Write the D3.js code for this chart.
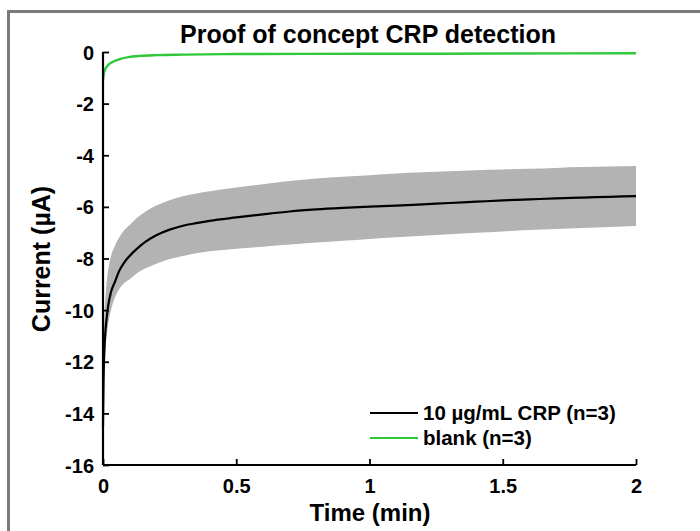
<!DOCTYPE html>
<html>
<head>
<meta charset="utf-8">
<script src="https://cdn.jsdelivr.net/npm/d3@7"></script>
<style>
html,body{margin:0;padding:0;background:#fff;}
svg{display:block;font-family:"Liberation Sans",Arial,Helvetica,sans-serif;font-weight:bold;}
</style>
</head>
<body>
<svg id="chart" width="700" height="531"></svg>
<script>
// ---- data ----
const crpTime  = [0,0.002,0.005,0.01,0.015,0.02,0.03,0.045,0.06,0.08,0.1,0.13,0.16,0.2,0.25,0.3,0.35,0.4,0.5,0.6,0.7,0.8,0.9,1.0,1.1,1.2,1.3,1.4,1.5,1.6,1.7,1.8,1.9,2.0];
const crpMean  = [-14.5,-12.8,-11.6,-10.7,-10.2,-9.8,-9.3,-8.9,-8.5,-8.15,-7.9,-7.6,-7.35,-7.1,-6.88,-6.73,-6.63,-6.54,-6.41,-6.29,-6.18,-6.1,-6.04,-5.99,-5.95,-5.9,-5.85,-5.8,-5.75,-5.71,-5.67,-5.64,-5.61,-5.58];
const crpUpper = [-13.8,-11.8,-10.4,-9.4,-8.8,-8.4,-7.9,-7.5,-7.2,-6.9,-6.7,-6.4,-6.18,-5.95,-5.74,-5.59,-5.48,-5.39,-5.25,-5.12,-5.0,-4.9,-4.83,-4.77,-4.71,-4.66,-4.62,-4.58,-4.55,-4.52,-4.49,-4.46,-4.44,-4.42];
const crpLower = [-14.5,-13.2,-12.3,-11.4,-10.9,-10.5,-10.0,-9.5,-9.2,-8.95,-8.8,-8.55,-8.38,-8.2,-8.02,-7.9,-7.8,-7.72,-7.62,-7.54,-7.46,-7.38,-7.31,-7.24,-7.18,-7.12,-7.06,-7.0,-6.95,-6.90,-6.86,-6.82,-6.78,-6.74];
const blankTime = [0,0.003,0.0075,0.013,0.02,0.03,0.045,0.065,0.095,0.14,0.2,0.3,0.5,1.0,1.5,2.0];
const blankMean = [-1.1,-0.85,-0.7,-0.58,-0.5,-0.42,-0.34,-0.27,-0.2,-0.15,-0.12,-0.1,-0.08,-0.07,-0.06,-0.05];
const xTicks = [0,0.5,1,1.5,2];
const yTicks = [0,-2,-4,-6,-8,-10,-12,-14,-16];
const legendLabels = ["10 \u00b5g/mL CRP (n=3)", "blank (n=3)"];
const titleText = "Proof of concept CRP detection";
const xLabel = "Time (min)";
const yLabel = "Current (\u00b5A)";

// ---- layout ----
const svg = d3.select("#chart");
const x = d3.scaleLinear().domain([0,2]).range([103,636]);
const y = d3.scaleLinear().domain([-16,0]).range([465,52]);

// outer frame
svg.append("rect").attr("x",8.5).attr("y",11.5).attr("width",900).attr("height",700)
  .attr("fill","none").attr("stroke","#7a7a7a").attr("stroke-width",3);

const crp = crpTime.map((t,i)=>({t, m:crpMean[i], u:crpUpper[i], l:crpLower[i]}));
const blank = blankTime.map((t,i)=>({t, m:blankMean[i]}));

// band
svg.append("path").datum(crp)
  .attr("d", d3.area().x(d=>x(d.t)).y0(d=>y(d.l)).y1(d=>y(d.u)).curve(d3.curveMonotoneX))
  .attr("fill","#b3b3b3").attr("stroke","none");

// lines
svg.append("path").datum(crp)
  .attr("d", d3.line().x(d=>x(d.t)).y(d=>y(d.m)).curve(d3.curveMonotoneX))
  .attr("fill","none").attr("stroke","#000").attr("stroke-width",2.2);
svg.append("path").datum(blank)
  .attr("d", d3.line().x(d=>x(d.t)).y(d=>y(d.m)).curve(d3.curveMonotoneX))
  .attr("fill","none").attr("stroke","#2ec83a").attr("stroke-width",2.4);

// axes
const xAxis = d3.axisBottom(x).tickValues(xTicks).tickSize(-6).tickPadding(10).tickFormat(d3.format("~g"));
const yAxis = d3.axisLeft(y).tickValues(yTicks).tickSize(-6).tickPadding(9).tickFormat(d=>d===0?"0":String(d));
const gx = svg.append("g").attr("transform","translate(0,465)").call(xAxis);
const gy = svg.append("g").attr("transform","translate(103,0)").call(yAxis);
[gx,gy].forEach(g=>{
  g.select(".domain").attr("stroke","#000").attr("stroke-width",2.2);
  g.selectAll(".tick line").attr("stroke","#000").attr("stroke-width",1.8);
  g.selectAll(".tick text").attr("fill","#000").style("font-size","20px").style("font-weight","bold")
    .style("font-family","'Liberation Sans',Arial,sans-serif");
});
gx.select(".domain").attr("d","M103,0H636");
gy.select(".domain").attr("d","M0,52V465");
gx.selectAll(".tick text").attr("dy","0.9em");
gy.selectAll(".tick text").attr("dy","0.35em");

// title and labels
svg.append("text").attr("x",368).attr("y",43).attr("text-anchor","middle")
  .style("font-size","25px").attr("fill","#000").text(titleText);
svg.append("text").attr("x",370).attr("y",521).attr("text-anchor","middle")
  .style("font-size","24px").attr("fill","#000").text(xLabel);
svg.append("text").attr("transform","translate(50,259) rotate(-90)").attr("text-anchor","middle")
  .style("font-size","25px").attr("fill","#000").text(yLabel);

// legend
const legColors = ["#000","#2ec83a"];
const legY = [413,438];
legendLabels.forEach((lab,i)=>{
  svg.append("line").attr("x1",370).attr("x2",418).attr("y1",legY[i]).attr("y2",legY[i])
    .attr("stroke",legColors[i]).attr("stroke-width",2.2);
  svg.append("text").attr("x",423).attr("y",legY[i]).attr("dy","0.36em")
    .style("font-size","20.5px").attr("fill","#000").text(lab);
});
</script>
</body>
</html>
